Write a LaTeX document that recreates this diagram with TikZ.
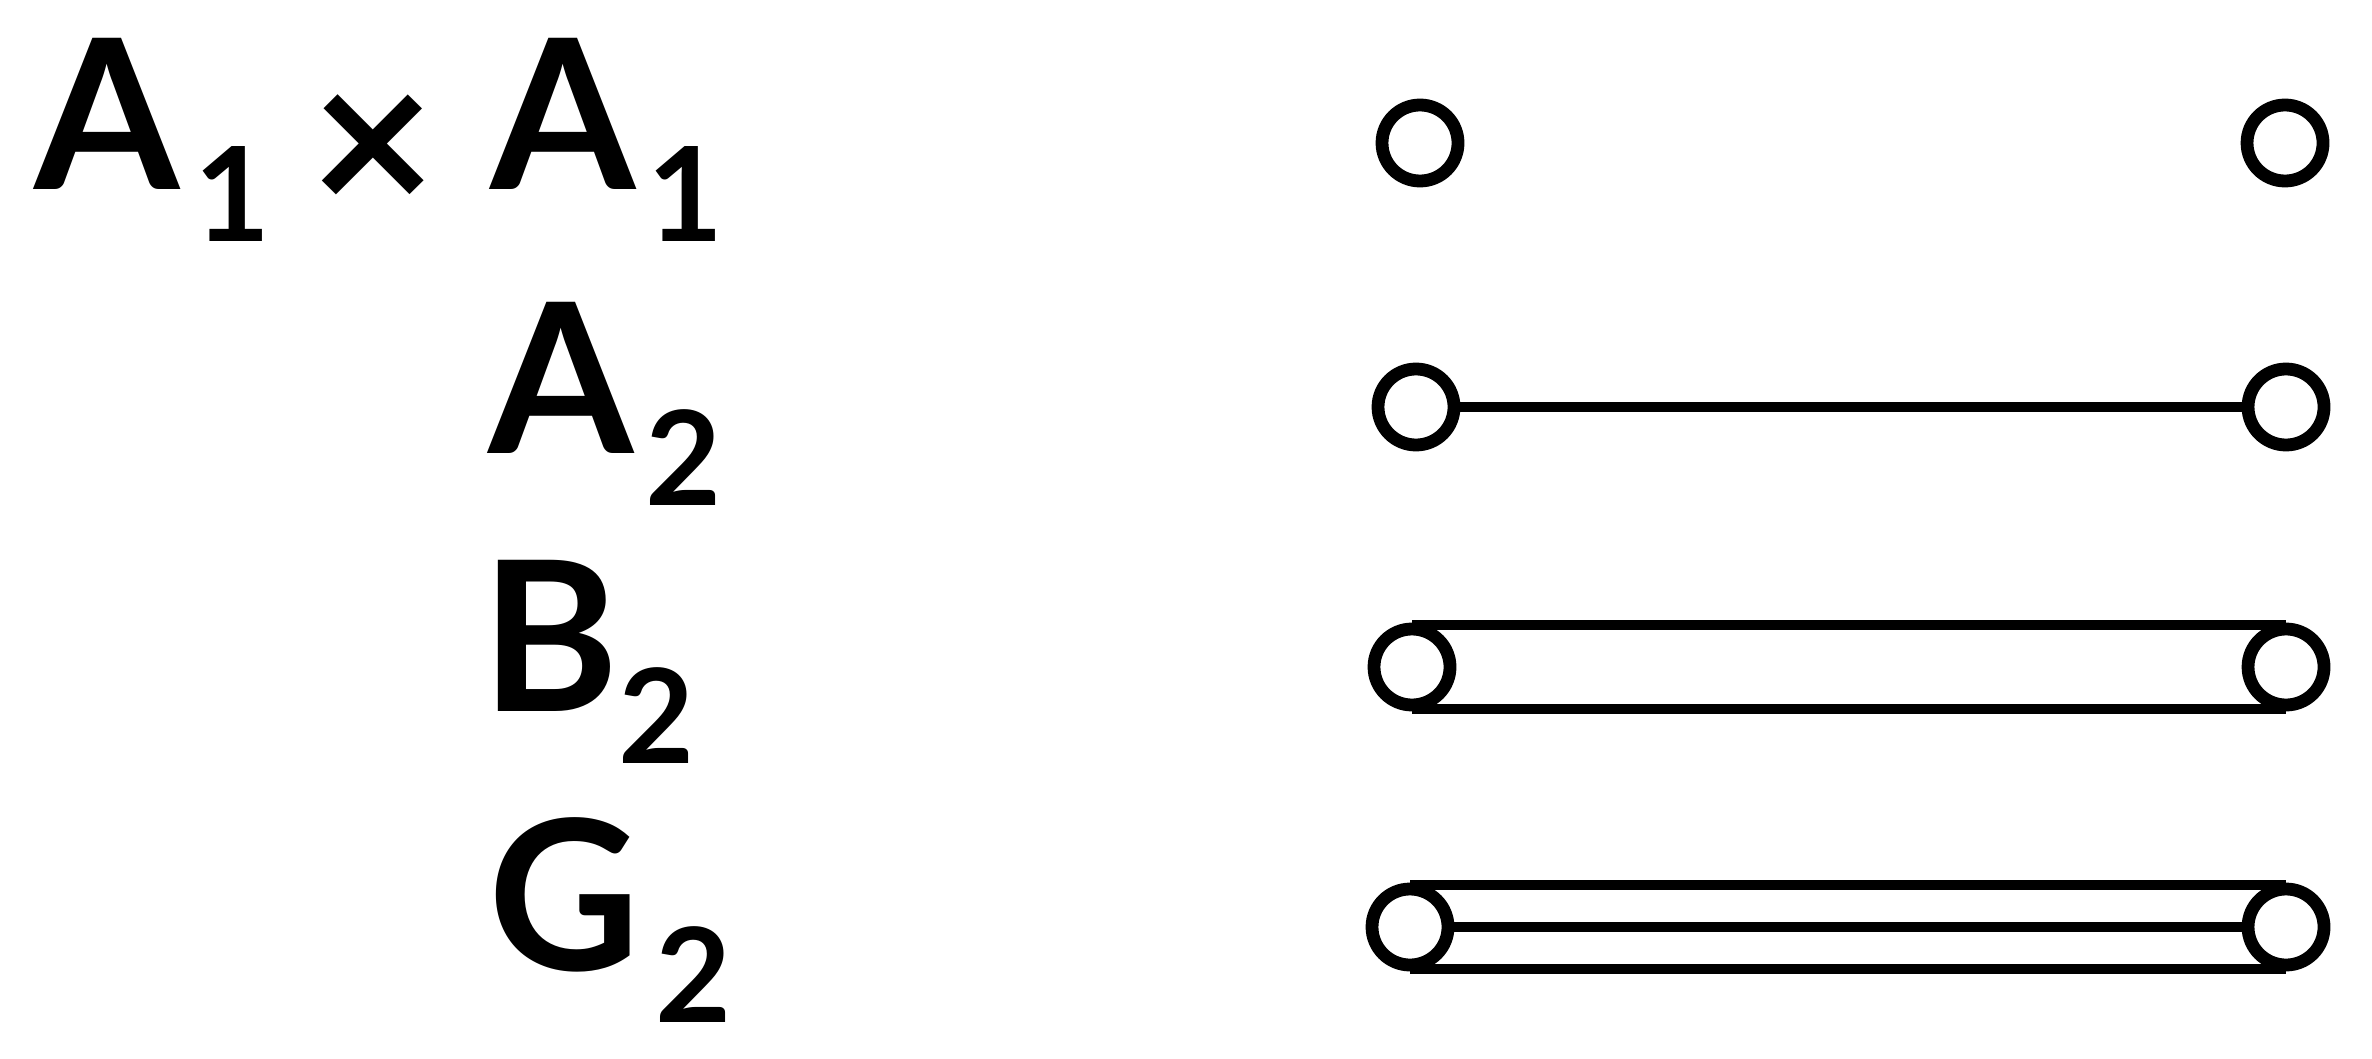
\documentclass[tikz,border=0pt]{standalone}
\usepackage{fontspec}
\setmainfont{Lato}
\newcommand{\bigA}[2]{{\fontsize{52.3pt}{60pt}\selectfont\bfseries #1}\kern#2}
\newcommand{\subd}[1]{\raisebox{-13pt}{\fontsize{32.8pt}{36pt}\selectfont\bfseries #1}}
\tikzset{
  lab/.style={anchor=base west, inner sep=0pt, outer sep=0pt},
  dot/.style={circle, draw, line width=3.2pt, minimum size=19pt, inner sep=0pt, outer sep=1pt},
  bond/.style={line width=2.7pt}
}
\begin{document}
\begin{tikzpicture}[x=0.25pt, y=-0.25pt]
\useasboundingbox (0,0) rectangle (2372,1058);
% labels
\node[lab] (a1a) at (35,190) {\bigA{A}{3.5pt}\subd{1}};
\node[inner sep=0pt] (times) at (373,156) {\fontsize{54pt}{60pt}\selectfont\bfseries ×};
\node[lab] (a1b) at (490,190) {\bigA{A}{3pt}\subd{1}};
\node[lab] (a2) at (488,454) {\bigA{A}{3pt}\subd{2}};
\node[lab] (b2) at (481,711) {\bigA{B}{0pt}\subd{2}};
\node[lab] (g2) at (488,970) {\bigA{G}{4pt}\subd{2}};
% diagrams
\node[dot] (r1l) at (1420,143) {};
\node[dot] (r1r) at (2285,143) {};
\node[dot] (r2l) at (1416,407) {};
\node[dot] (r2r) at (2286,407) {};
\node[dot] (r3l) at (1412,667) {};
\node[dot] (r3r) at (2286,667) {};
\node[dot] (r4l) at (1410,927) {};
\node[dot] (r4r) at (2286,927) {};
\draw[bond] (r2l) -- (r2r);
\draw[bond] (r3l.north) -- (r3r.north);
\draw[bond] (r3l.south) -- (r3r.south);
\draw[bond] (r4l.north) -- (r4r.north);
\draw[bond] (r4l) -- (r4r);
\draw[bond] (r4l.south) -- (r4r.south);
\end{tikzpicture}
\end{document}
